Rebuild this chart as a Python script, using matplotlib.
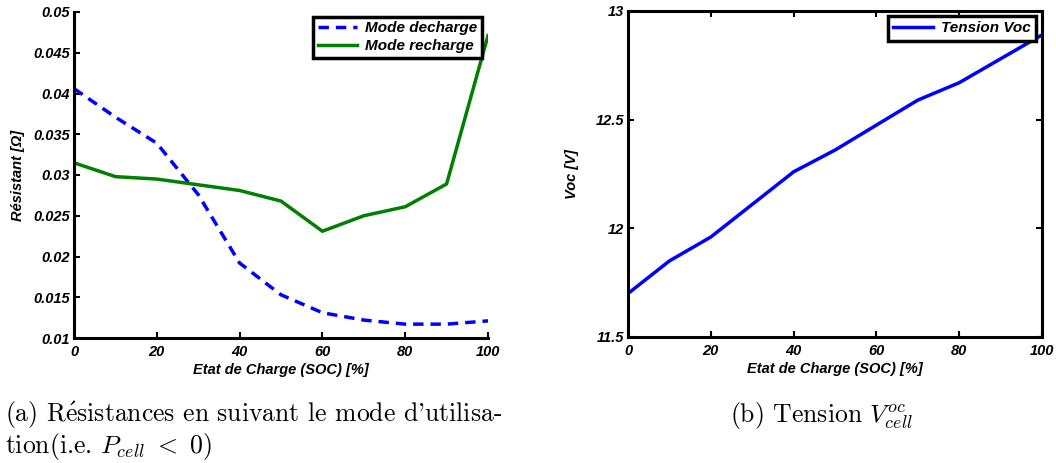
import numpy as np
import matplotlib
matplotlib.use("Agg")
import matplotlib.pyplot as plt
from matplotlib.font_manager import FontProperties

soc = [0, 10, 20, 30, 40, 50, 60, 70, 80, 90, 100]
r_decharge = [0.0406, 0.0371, 0.0339, 0.0276, 0.0192, 0.0153, 0.0131, 0.0122, 0.0117, 0.0117, 0.0121]
r_recharge = [0.0315, 0.0298, 0.0295, 0.0288, 0.0281, 0.0268, 0.0231, 0.0250, 0.0261, 0.0289, 0.0471]
voc = [11.70, 11.85, 11.96, 12.11, 12.26, 12.36, 12.475, 12.59, 12.67, 12.78, 12.89]

tick_font = dict(family="Liberation Sans", weight="bold", style="italic", size=10.5)
lab_font = dict(family="Liberation Sans", weight="bold", style="italic", size=10.5)
leg_font = dict(family="Liberation Sans", weight="bold", style="italic", size=11)

plt.rcParams["mathtext.fontset"] = "cm"

fig = plt.figure(figsize=(10.56, 4.63), dpi=100)
W, H = 1056, 463

# (a) resistances
ax1 = fig.add_axes([74 / W, 1 - 338 / H, 414 / W, 326 / H])
ax1.plot(soc, r_decharge, color="blue", ls=(0, (3, 2)), lw=2.5, label="Mode decharge")
ax1.plot(soc, r_recharge, color="#007f00", lw=2.5, label="Mode recharge")
ax1.set_xlim(0, 100)
ax1.set_ylim(0.01, 0.05)
ax1.set_xticks(range(0, 101, 20))
ax1.set_yticks(np.arange(0.01, 0.0501, 0.005))
ax1.set_yticklabels(["0.01", "0.015", "0.02", "0.025", "0.03", "0.035", "0.04", "0.045", "0.05"])
ax1.spines["top"].set_visible(False)
ax1.spines["right"].set_visible(False)
ax1.set_ylabel("Résistant [Ω]", fontdict=lab_font, labelpad=6)
ax1.set_xlabel("Etat de Charge (SOC) [%]", fontdict=lab_font, labelpad=3)
leg1 = ax1.legend(loc="upper right", prop=leg_font, fancybox=False, edgecolor="black",
                  framealpha=1, handlelength=2.6, handletextpad=0.5, borderpad=0.3,
                  labelspacing=0.25, borderaxespad=0, bbox_to_anchor=(0.985, 0.985))
leg1.get_frame().set_linewidth(2.5)

# (b) Voc
ax2 = fig.add_axes([628 / W, 1 - 337 / H, 414 / W, 326 / H])
ax2.plot(soc, voc, color="blue", lw=2.5, label="Tension Voc")
ax2.set_xlim(0, 100)
ax2.set_ylim(11.5, 13)
ax2.set_xticks(range(0, 101, 20))
ax2.set_yticks([11.5, 12, 12.5, 13])
ax2.set_yticklabels(["11.5", "12", "12.5", "13"])
ax2.set_ylabel("Voc [V]", fontdict=lab_font, labelpad=12)
ax2.set_xlabel("Etat de Charge (SOC) [%]", fontdict=lab_font, labelpad=3)
leg2 = ax2.legend(loc="upper right", prop=leg_font, fancybox=False, edgecolor="black",
                  framealpha=1, handlelength=2.6, handletextpad=0.5, borderpad=0.35,
                  borderaxespad=0, bbox_to_anchor=(0.985, 0.985))
leg2.get_frame().set_linewidth(2.5)

for ax in (ax1, ax2):
    for s in ax.spines.values():
        s.set_linewidth(2.2)
    ax.tick_params(direction="in", length=4, width=1.5, pad=3,
                   top=(ax is ax2), right=(ax is ax2))
    ax.tick_params(axis="x", pad=5)
    for t in ax.get_xticklabels() + ax.get_yticklabels():
        t.set_fontproperties(FontProperties(**tick_font))

cap_font = dict(family=["cmr10", "DejaVu Serif"], size=18.5)
fig.text(5 / W, 1 - 422 / H, r"(a) R$\mathrm{\acute{e}}$sistances en suivant le mode d'utilisa-",
         va="baseline", ha="left", **cap_font)
fig.text(5 / W, 1 - 453 / H, r"tion(i.e. $P_{cell}\ <\ 0$)", va="baseline", ha="left", **cap_font)
fig.text(730 / W, 1 - 422 / H, r"(b) Tension $V_{cell}^{oc}$", va="baseline", ha="left", **cap_font)

fig.savefig("out.png", dpi=100)
